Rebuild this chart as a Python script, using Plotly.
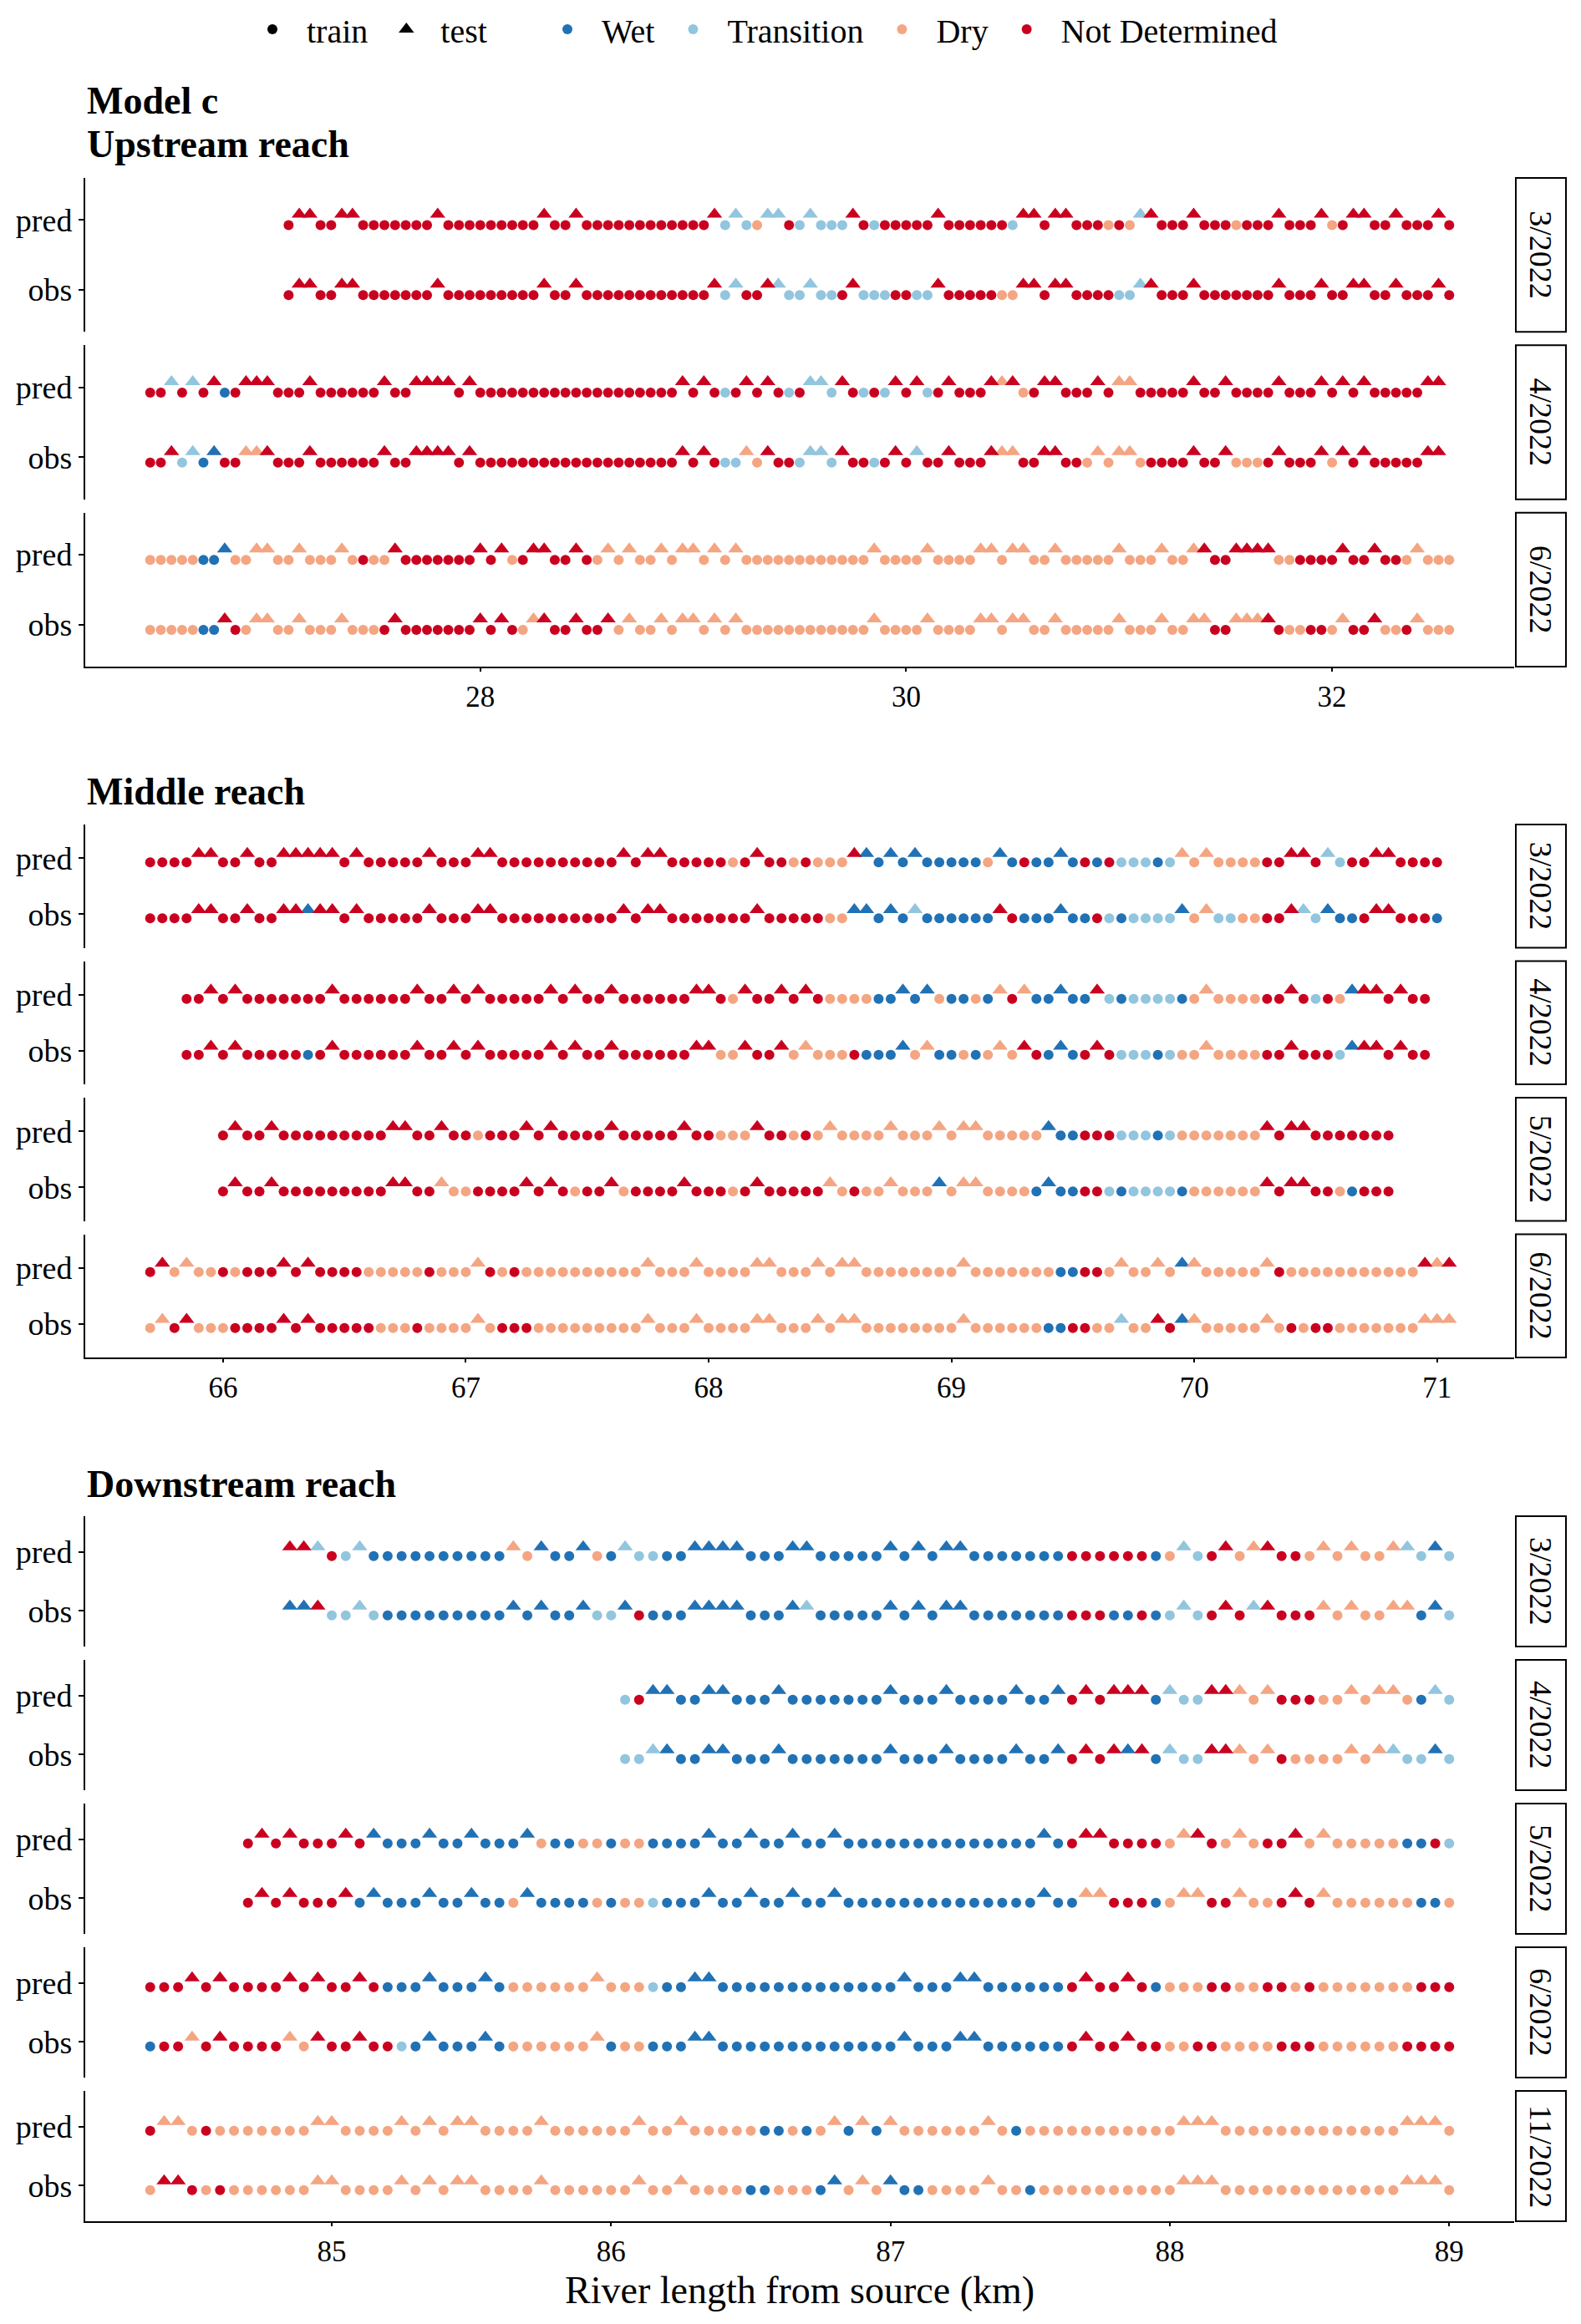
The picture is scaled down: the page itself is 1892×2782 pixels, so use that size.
"""Model c: predicted vs observed flow state along three river reaches."""

import plotly.graph_objects as go

# Codes along each row: W Wet, T Transition, D Dry, N Not Determined.
# Upper case = train point, lower case = test point. Spaces are only for reading.
STEP_KM = 0.05

up_months = ["3/2022", "4/2022", "6/2022"]
up_first_km = [27.10, 26.45, 26.45]
up_pred = [
    "NnnNNnn NNNNNNN n NNNNNNNNN n NN n NNNNNNNNNNNN n TtTDttNTtTTTnNT NNNNN n NNNNNN "
    "TnnNnnNNNDNDtnNNNnNNNDNNNnNNNnDNnnNNnNNNnN",
    "NNtNtNnWN nnn NNN n NNNNNN n NN nnnn N n NNNNNNNNNNNNNNNNNNN "
    "nNnNTNnNnNTNttTnNTNTnNnTNnNNNndn DNnnNNNnNdd NNNNN n NN n NNNN n NNN n N n N n NNNNN nn",
    "DDDDD WWw DD dd DD d DDD d D N DD n NNNNNNN n N n D N nn NN n N D d D d DD d D dd D d D d "
    "DDDDDDDDDDDD d DDDD d DDDD dd D dd DD d DDDDD d DDD d DD d n NN nnnn DD NNNN n NN n NN D d DDD",
]
up_obs = [
    "NnnNNnn NNNNNNN n NNNNNNNNN n NN n NNNNNNNNNNNN n TtNNntTTtTTNnTTTNNTT "
    "n NNNNN DDnnNnn NNNN TTtn NNN n NNNNNNN n NNN n NN nn NN n NNN n N",
    "NNnTtWwNN ddn NNN n NNNNNN n NN nnnn N n NNNNNNNNNNNNNNNNNNN "
    "nNnNTTdDnNNTttTnNNTNnNtNNnNNNndd NNnnNNDdDdd D NNNN n NN n DDD N n NNN n D n N n NNNNN nn",
    "DDDDD WWn N D dd DD d DDD d DDD N n NNNNNNN n N n N D d n NN n NN n D d DD d D dd D d D d "
    "DDDDDDDDDDDD d DDDD d DDDD dd D dd DD d DDDDD d DDD d DD dd NN ddd n N DD NN D d NN n DD N d DDD",
]
up_ticks = [28, 30, 32]

mid_months = ["3/2022", "4/2022", "5/2022", "6/2022"]
mid_first_km = [65.70, 65.85, 66.00, 65.70]
mid_pred = [
    "NNNN nn NN n NN nnnnn N n NNNNN n NNN nn NNNNNNNNNN n N nn NNNNN D N n NN D N DDD n wWwWw "
    "WWWWW D w W N WW w W N W N TTT W T d D d DDDD NN nn N t T NN nn NNNN",
    "NNnNn NNNNNNN n NNNNNN n NN n N n NNNNN n N n NN n NNNNNN nn N D n NN n N n N DDDD WWwWw D "
    "WW D W d N d WW w WW n T W TTTT W D d DDDD NN n N T N D w nn N n NN",
    "NnNNn NNNNNNNNN nn NN n NN D NNN n N n NNNN n NNNNN n NN DDD n NN D N D d DDDD d DDD d D dd "
    "DDDDD w WW NNN TTT W T DDDDDDD n N nn NNNNNNN",
    "NnDdDD N D NNN n N n NNNN DDDDD N DDD d N D N D DDDDDDDDD d DDD d DDDD dd DDD d D dd "
    "DDDDDDDD d DDDDDDD WW NN D d DD d D w d DDDDD d N DDDDDDDDDDD n d n",
]
mid_obs = [
    "NNNN nn NN n NN nnwnn N n NNNNN n NNN nn NNNNNNNNNN n N nn NNNNNNN n NNNNN DD ww W w W t "
    "WWWWWW n N WWW w WW N T W TTTT w D d TT DD NN n t T w WW N nn NNN W",
    "NNnNn NNNNN W N n NNNNNN n NN n N n NNNNN n N n NN n NNNNNN nn DD n NN n D d DDD N WWW w D d "
    "WW D W D d D n N W w W N n N TTT W T DD d DDDD NN n NNN T w nn N n NN",
    "NnNNn NNNNNNNNN nn NN d DD NNNN n N n N D NN n D NNNN n NNN D N n NNNNN d D N DD d DDD w D dd "
    "DDDD W w WW NN T W TTTT W DDDDDD n N nn NN D W NNN",
    "DdNnDDD NNNN n N n NNNNN DDD N DDDD d D NNN DDDDDDDDD d DDD d DDDD dd DDD d D dd "
    "DDDDDDDD d DDDDDD WW NN DD t DD n N w d DDDDD d D N D NN DDDDDDD ddd",
]
mid_ticks = [66, 67, 68, 69, 70, 71]

down_months = ["3/2022", "4/2022", "5/2022", "6/2022", "11/2022"]
down_first_km = [84.85, 86.05, 84.70, 84.35, 84.35]
down_pred = [
    "nntNTt WWWWWWWWWW d D w WW w D W t TT WW wwww WWW ww WWWWW w W w W ww WWWWWWW NNNNNN "
    "W D t T N n D d n NN D d D d DD d t T w T",
    "TN ww WW ww WWW w WWWWWWW w WWW w WWWW w WW w N n N nnn W t TT nn d D d NNN DD d D dd D W t T",
    "NnNnNNNnN w WWW w WW w WWW w D WW DD W DD WWWW w WW w WW w WW w WWWWWWWWWWWWWW w W N nn "
    "NNNN D d n N D d D NN n D d DDDDD WW N T",
    "NNNnNn NNNN n N n NN n N WWW w WWW w W DDDDDD d DDD T WW ww WWWWWWWWWWWWW w WWW ww WWWWWW "
    "N n NN n N W DDD NN DD NN D N DDDDDDD NNN",
    "NddDND DDDDDD dd DDDD d D d D dd DDDD d DDDDDD d DD d DDDDD WW D W D d W d W d DDDDDD d D W "
    "DDDDDDDDDDD ddd DDDDDDDDDDDDD ddd D",
]
down_obs = [
    "wwnTTt T WWWWWWWWW w W w WW w TT w N WWW wwww WWW w t WWWWW w W w W ww WWWWWWW NNN WW N "
    "W T t T N n N t n NNN d D d DD dd W w T",
    "TT t w WW ww WWW w WWWWWWW w WWW w WWWW w WW w N n N n w n W t TT nn d D d N DDDD d D d t TT w T",
    "NnNnNNNn W w WWW w WW w WW D w WWWW D W DD T WWW w WW w WW w WW w WWWWWWWWWWWWWW w WW dd "
    "NNN W D dd NN d DD N n N d DDDDDD WW D",
    "WNNdNn NNNN d D n NN n NN T W w WWW w W DDDDDD d W DD WWW ww WWWWWWWWWWWWW w WWW ww WWWWWW "
    "N n NN n NN DD NN DDDD NNN DDDDDD NNNN",
    "DnnNDN DDDDDD dd DDDD d D d D dd DDDD d DDDDDD d DD d DDDD WW DDD W w D d D w WW DDDD d DD W "
    "DDDDDDDDDD ddd DDDDDDDDDDDDD ddd D",
]
down_ticks = [85, 86, 87, 88, 89]

CLASS_NAMES = {"W": "Wet", "T": "Transition", "D": "Dry", "N": "Not Determined"}
COLORS = {"W": "#2171B5", "T": "#92C5DE", "D": "#F4A582", "N": "#CA0020"}

# ---- page geometry (pixels of the 1892 x 2782 page) ----
W, H = 1892, 2782
FONT = "Liberation Serif"
PLOT_L, PLOT_R = 102, 1812
STRIP_L, STRIP_R = 1814, 1874
GAP = 16
TRAIN_NUDGE, TEST_NUDGE = -0.075, 0.08

reaches = [
    dict(months=up_months, first=up_first_km, pred=up_pred, obs=up_obs, ticks=up_ticks,
         xrange=[26.145, 32.855], top=213, bottom=798),
    dict(months=mid_months, first=mid_first_km, pred=mid_pred, obs=mid_obs, ticks=mid_ticks,
         xrange=[65.4325, 71.3175], top=987, bottom=1625),
    dict(months=down_months, first=down_first_km, pred=down_pred, obs=down_obs, ticks=down_ticks,
         xrange=[84.1175, 89.2325], top=1815, bottom=2659),
]
titles = [("Model c", 121), ("Upstream reach", 173), ("Middle reach", 948), ("Downstream reach", 1776)]


def fy(px):
    return 1 - px / H


fig = go.Figure()
layout = {}
shapes = []
annotations = []
n = 0
for reach in reaches:
    k = len(reach["months"])
    ph = (reach["bottom"] - reach["top"] - GAP * (k - 1)) / k
    for m in range(k):
        n += 1
        top = reach["top"] + m * (ph + GAP)
        bot = top + ph
        last = m == k - 1
        xname = "xaxis" if n == 1 else f"xaxis{n}"
        yname = "yaxis" if n == 1 else f"yaxis{n}"
        layout[xname] = dict(
            domain=[PLOT_L / W, PLOT_R / W], range=reach["xrange"], anchor=f"y{n}" if n > 1 else "y",
            showgrid=False, zeroline=False, showline=last, linecolor="black", linewidth=2,
            ticks="outside" if last else "", ticklen=4, tickwidth=2, tickcolor="black",
            showticklabels=last, tickvals=reach["ticks"],
            tickfont=dict(family=FONT, size=35, color="black"),
        )
        layout[yname] = dict(
            domain=[fy(bot), fy(top)], range=[0.4, 2.6], anchor=f"x{n}" if n > 1 else "x",
            showgrid=False, zeroline=False, showline=True, linecolor="black", linewidth=2,
            ticks="outside", ticklen=6, tickwidth=2, tickcolor="black",
            tickvals=[1, 2], ticktext=["obs", "pred"],
            tickfont=dict(family=FONT, size=38, color="black"),
        )
        first_km = reach["first"][m]
        rows = ((2, reach["pred"][m].replace(" ", "")), (1, reach["obs"][m].replace(" ", "")))
        for cls in "WTDN":
            for is_test in (False, True):
                key = cls.lower() if is_test else cls
                xs, ys = [], []
                for row_y, codes in rows:
                    for i, c in enumerate(codes):
                        if c == key:
                            xs.append(round(first_km + i * STEP_KM, 2))
                            ys.append(row_y + (TEST_NUDGE if is_test else TRAIN_NUDGE))
                if not xs:
                    continue
                fig.add_trace(go.Scatter(
                    x=xs, y=ys, mode="markers", showlegend=False, hoverinfo="skip",
                    xaxis=f"x{n}" if n > 1 else "x", yaxis=f"y{n}" if n > 1 else "y",
                    marker=dict(color=COLORS[cls], symbol="triangle-up" if is_test else "circle",
                                size=16 if is_test else 12, line=dict(width=0)),
                ))
        # facet strip on the right
        shapes.append(dict(type="rect", xref="paper", yref="paper", x0=STRIP_L / W, x1=STRIP_R / W,
                           y0=fy(bot), y1=fy(top), line=dict(color="black", width=2),
                           fillcolor="white"))
        annotations.append(dict(text=reach["months"][m], xref="paper", yref="paper",
                                x=(STRIP_L + STRIP_R) / 2 / W, y=fy((top + bot) / 2),
                                xanchor="center", yanchor="middle",
                                showarrow=False, textangle=90,
                                font=dict(family=FONT, size=38, color="black")))

for text, ypx in titles:
    annotations.append(dict(text=f"<b>{text}</b>", xref="paper", yref="paper", x=PLOT_L / W,
                            y=fy(ypx), xanchor="left", yanchor="middle", showarrow=False,
                            font=dict(family=FONT, size=46, color="black")))
annotations.append(dict(text="River length from source (km)", xref="paper", yref="paper",
                        x=(PLOT_L + PLOT_R) / 2 / W, y=fy(2741), xanchor="center",
                        yanchor="middle", showarrow=False,
                        font=dict(family=FONT, size=46, color="black")))

# legend entries
for name, sym, size in (("train", "circle", 12), ("test", "triangle-up", 16)):
    fig.add_trace(go.Scatter(x=[None], y=[None], mode="markers", name=name, legend="legend",
                             marker=dict(color="black", symbol=sym, size=size)))
for cls in "WTDN":
    fig.add_trace(go.Scatter(x=[None], y=[None], mode="markers", name=CLASS_NAMES[cls],
                             legend="legend2", marker=dict(color=COLORS[cls], symbol="circle", size=12)))

legend_style = dict(orientation="h", yanchor="middle", y=fy(35), xanchor="left",
                    font=dict(family=FONT, size=40, color="black"), itemwidth=72,
                    bgcolor="rgba(0,0,0,0)", traceorder="normal")

fig.update_layout(
    width=W, height=H, margin=dict(l=0, r=0, t=0, b=0),
    paper_bgcolor="white", plot_bgcolor="white",
    legend=dict(legend_style, x=(327 - 42) / W),
    legend2=dict(legend_style, x=(674 - 36) / W),
    shapes=shapes, annotations=annotations,
    **layout,
)

fig.write_html("out.html", config={"displayModeBar": False},
               post_script="document.body.style.margin='0';")
